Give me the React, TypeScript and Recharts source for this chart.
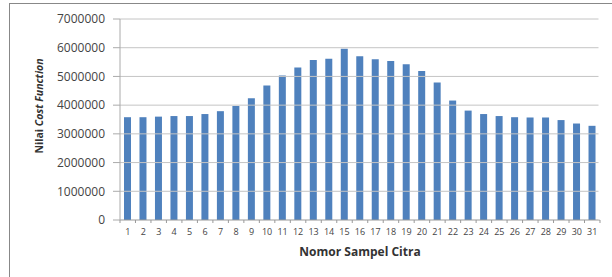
import React from "react";
import {
  BarChart,
  Bar,
  XAxis,
  YAxis,
  ReferenceLine,
} from "recharts";

const sampel = [
  "1", "2", "3", "4", "5", "6", "7", "8", "9", "10", "11", "12", "13", "14", "15", "16",
  "17", "18", "19", "20", "21", "22", "23", "24", "25", "26", "27", "28", "29", "30", "31",
];

const costValues = [
  3580000, 3580000, 3600000, 3620000, 3620000, 3690000, 3790000, 3970000, 4240000,
  4680000, 5030000, 5310000, 5570000, 5620000, 5960000, 5700000, 5600000, 5540000,
  5420000, 5190000, 4790000, 4160000, 3810000, 3690000, 3620000, 3580000, 3570000,
  3570000, 3480000, 3360000, 3280000,
];

const yTicks = [0, 1000000, 2000000, 3000000, 4000000, 5000000, 6000000, 7000000];

const data = sampel.map((s, i) => ({ name: s, cost: costValues[i] }));

const FONT = "'Open Sans', 'DejaVu Sans', sans-serif";

const XTick = (props: any) => {
  const { x, y, payload, index } = props;
  const step = 15.47;
  return (
    <g>
      <line x1={x + step / 2} y1={y - 8} x2={x + step / 2} y2={y - 5} stroke="#999" />
      {index === 0 && (
        <line x1={x - step / 2} y1={y - 8} x2={x - step / 2} y2={y - 5} stroke="#999" />
      )}
      <text x={x} y={y + 7} textAnchor="middle" fontSize={9} fill="#444" fontFamily={FONT}>
        {payload.value}
      </text>
    </g>
  );
};

const App: React.FC = () => {
  return (
    <div
      style={{
        position: "fixed",
        left: 0,
        top: 0,
        width: 612,
        height: 277,
        background: "#fff",
        overflow: "hidden",
      }}
    >
      <div
        style={{
          position: "absolute",
          left: 9,
          top: 3,
          width: 603,
          height: 274,
          borderLeft: "1px solid #888",
          borderTop: "1.5px solid #888",
          boxSizing: "border-box",
        }}
      />
      <div style={{ position: "absolute", left: 0, top: 0 }}>
        <BarChart
          width={612}
          height={277}
          data={data}
          margin={{ top: 19, right: 12, left: 0, bottom: 0 }}
          barSize={7}
        >
          {yTicks.slice(1).map((t) => (
            <ReferenceLine key={t} y={t} stroke="#c4c4c4" />
          ))}
          <XAxis
            dataKey="name"
            height={57}
            tickLine={false}
            axisLine={{ stroke: "#999" }}
            tick={<XTick />}
            interval={0}
          />
          <YAxis
            width={120}
            domain={[0, 7000000]}
            ticks={yTicks}
            tickSize={7}
            tickMargin={8}
            axisLine={{ stroke: "#aaa" }}
            tickLine={{ stroke: "#aaa" }}
            tick={{ fontSize: 12, fill: "#444", fontFamily: FONT }}
          />
          <Bar dataKey="cost" fill="#4f81bd" isAnimationActive={false} />
        </BarChart>
      </div>
      <svg
        width={612}
        height={277}
        style={{ position: "absolute", left: 0, top: 0, pointerEvents: "none" }}
      >
        {/* hide the stray edge line at the right of the plot */}
        <rect x={598.5} y={17} width={14} height={202.5} fill="#fff" />
        <text
          x={360}
          y={256}
          textAnchor="middle"
          fontSize={12}
          fontWeight="bold"
          fill="#333"
          fontFamily={FONT}
        >
          Nomor Sampel Citra
        </text>
        <text
          x={0}
          y={0}
          transform="translate(43,106) rotate(-90)"
          textAnchor="middle"
          fontSize={10.5}
          fontWeight="bold"
          fill="#333"
          fontFamily={FONT}
        >
          Nilai <tspan fontStyle="italic">Cost Function</tspan>
        </text>
      </svg>
    </div>
  );
};

export default App;
